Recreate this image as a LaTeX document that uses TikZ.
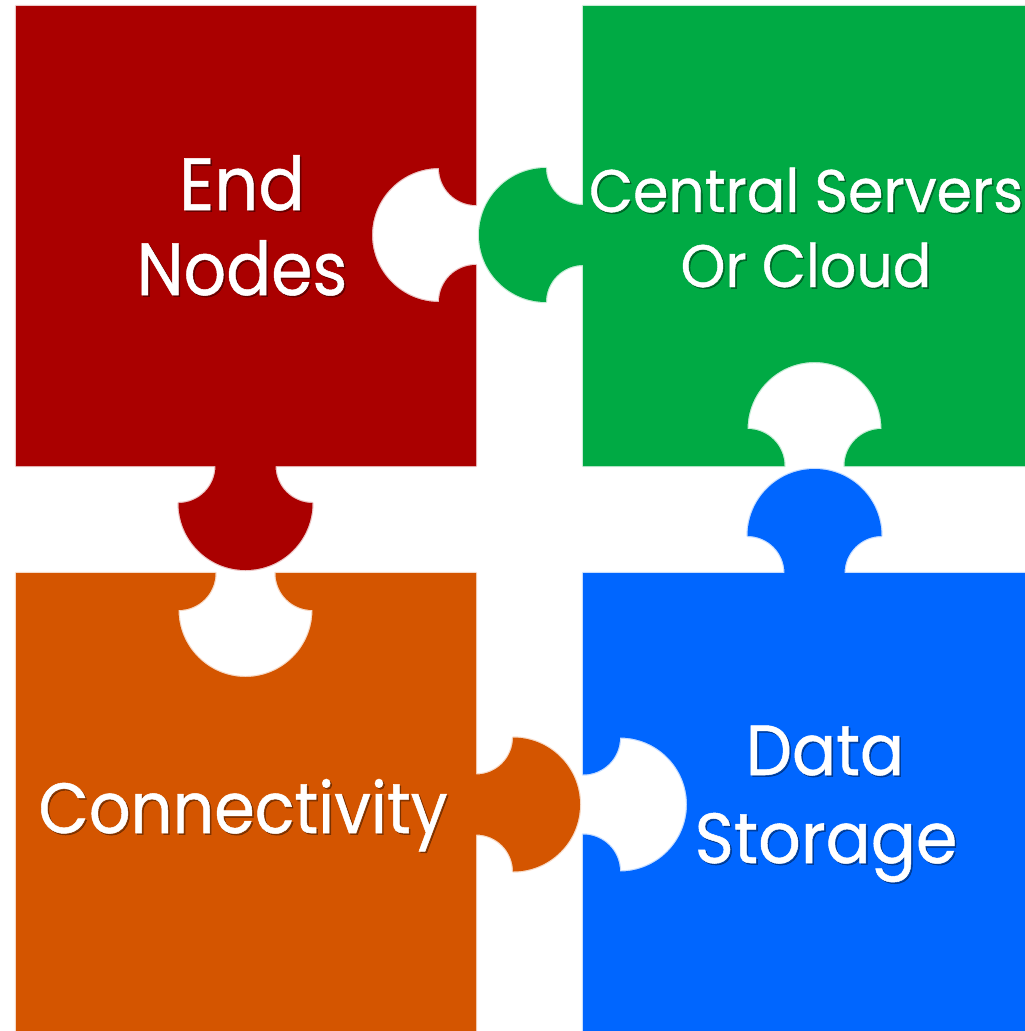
\documentclass[tikz,border=0pt]{standalone}
\usepackage{fontspec}
\usepackage{graphicx}
\setmainfont{Poppins}[FakeBold=0.7]
\definecolor{pred}{HTML}{AA0000}
\definecolor{pgreen}{HTML}{00AA44}
\definecolor{porange}{HTML}{D45500}
\definecolor{pblue}{HTML}{0066FF}
\tikzset{
  edgeglow/.style={draw=#1!22, line width=2.4pt, line join=round},
  label/.style={text=white, anchor=base, inner sep=0pt, align=center},
  shadowlabel/.style={text=black, opacity=0.35, anchor=base, inner sep=0pt, align=center},
}
\newcommand{\pzlabel}[6]{% name, x, y, size, xscale, text
  \node[shadowlabel] (#1s) at (#2+1.6,#3-1.6) {\fontsize{#4}{#4}\selectfont\scalebox{#5}[1]{#6}};
  \node[label] (#1) at (#2,#3) {\fontsize{#4}{#4}\selectfont\scalebox{#5}[1]{#6}};
}
\begin{document}
\begin{tikzpicture}[x=1pt,y=1pt]
\useasboundingbox (0,0) rectangle (1025,-1031);
\clip (0,0) rectangle (1025,-1031);
% ---------- red piece: End Nodes ----------
\def\redpath{(16,-6) -- (476,-6) -- (476,-205)
  arc[start angle=-90,end angle=-180,radius=37]
  arc[start angle=90,end angle=270,radius=67]
  arc[start angle=180,end angle=90,radius=37]
  -- (476,-466) -- (275.5,-466)
  arc[start angle=180,end angle=270,radius=37]
  arc[start angle=0,end angle=-180,radius=67]
  arc[start angle=-90,end angle=0,radius=37]
  -- (16,-466) -- cycle}
% ---------- green piece ----------
\def\greenpath{(583,-6) -- (1045,-6) -- (1045,-466) -- (844.5,-466)
  arc[start angle=-180,end angle=-270,radius=37]
  arc[start angle=0,end angle=180,radius=67]
  arc[start angle=90,end angle=0,radius=37]
  -- (583,-466) -- (583,-265)
  arc[start angle=90,end angle=180,radius=37]
  arc[start angle=-90,end angle=-270,radius=67]
  arc[start angle=180,end angle=270,radius=37]
  -- cycle}
% ---------- orange piece ----------
\def\orangepath{(16,-573) -- (215.5,-573)
  arc[start angle=0,end angle=-90,radius=37]
  arc[start angle=180,end angle=360,radius=67]
  arc[start angle=-90,end angle=-180,radius=37]
  -- (476,-573) -- (476,-774.5)
  arc[start angle=-90,end angle=0,radius=37]
  arc[start angle=90,end angle=-90,radius=67]
  arc[start angle=0,end angle=90,radius=37]
  -- (476,-1050) -- (16,-1050) -- cycle}
% ---------- blue piece ----------
\def\bluepath{(583,-573) -- (784.5,-573)
  arc[start angle=0,end angle=90,radius=37]
  arc[start angle=180,end angle=0,radius=67]
  arc[start angle=90,end angle=180,radius=37]
  -- (1045,-573) -- (1045,-1050) -- (583,-1050) -- (583,-834.5)
  arc[start angle=90,end angle=0,radius=37]
  arc[start angle=-90,end angle=90,radius=67]
  arc[start angle=0,end angle=-90,radius=37]
  -- cycle}
\draw[edgeglow=pred] \redpath;
\draw[edgeglow=pgreen] \greenpath;
\draw[edgeglow=porange] \orangepath;
\draw[edgeglow=pblue] \bluepath;
\fill[pred] \redpath;
\fill[pgreen] \greenpath;
\fill[porange] \orangepath;
\fill[pblue] \bluepath;
% ---------- labels ----------
\pzlabel{end}{242}{-210}{74}{0.93}{End}
\pzlabel{nodes}{242}{-295}{74}{0.90}{Nodes}
\pzlabel{central}{806}{-212}{60}{0.95}{Central Servers}
\pzlabel{cloud}{806}{-287}{60}{0.95}{Or Cloud}
\pzlabel{conn}{243}{-833}{71}{0.92}{Connectivity}
\pzlabel{data}{825}{-775}{71}{0.92}{Data}
\pzlabel{storage}{826}{-863}{71}{0.94}{Storage}
\end{tikzpicture}
\end{document}
